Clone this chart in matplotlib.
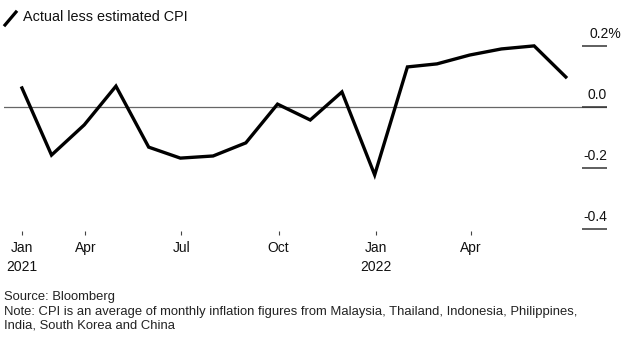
import matplotlib
matplotlib.use("Agg")
import matplotlib.pyplot as plt
from matplotlib.lines import Line2D
import pandas as pd

# monthly gap between actual and estimated CPI, percentage points
months = pd.date_range("2021-01-01", periods=18, freq="MS") + pd.offsets.MonthEnd(0)
cpi_gap = [0.064, -0.156, -0.057, 0.070, -0.130, -0.166, -0.159, -0.116, 0.011,
           -0.041, 0.051, -0.221, 0.133, 0.143, 0.172, 0.192, 0.202, 0.100]

tick_dates = pd.to_datetime(["2021-01-31", "2021-04-01", "2021-07-01",
                             "2021-10-01", "2022-01-01", "2022-04-01"])
tick_labels = ["Jan\n2021", "Apr", "Jul", "Oct", "Jan\n2022", "Apr"]
y_ticks = [0.2, 0.0, -0.2, -0.4]
y_labels = ["0.2%", "0.0", "-0.2", "-0.4"]

FONT = ["Liberation Sans", "DejaVu Sans"]
plt.rcParams["font.family"] = FONT

fig = plt.figure(figsize=(6.29, 3.39), dpi=100)
ax = fig.add_axes([4 / 629, 108 / 339, 603 / 629, 215 / 339])

ax.axhline(0, color="#666666", lw=0.9, zorder=1)
ax.plot(months, cpi_gap, color="black", lw=2.4, solid_joinstyle="miter", zorder=3)

ax.set_xlim(months[0] - pd.Timedelta(days=17), months[-1] + pd.Timedelta(days=39))
ax.set_ylim(-0.405, 0.30)

for s in ax.spines.values():
    s.set_visible(False)

ax.set_xticks(tick_dates)
ax.set_xticklabels(tick_labels, linespacing=1.45)
ax.tick_params(axis="x", direction="out", length=3, width=0.8, color="#444444",
               labelsize=10, pad=4, labelcolor="#111111")

ax.set_yticks(y_ticks)
ax.yaxis.tick_right()
ax.tick_params(axis="y", direction="in", length=18, width=1.1, color="#333333",
               labelright=False, labelleft=False)

# value labels sit above the short tick lines; the % sign hangs past the edge
for v, lab in zip(y_ticks, y_labels):
    dx = 10 if lab.endswith("%") else 0
    ax.annotate(lab, xy=(1, v), xycoords=("axes fraction", "data"),
                xytext=(dx, 6), textcoords="offset points",
                ha="right", va="baseline", fontsize=10, color="#111111")

# legend key and title
fig.add_artist(Line2D([5 / 629, 16 / 629], [1 - 25 / 339, 1 - 12 / 339],
                      color="black", lw=2.3, transform=fig.transFigure))
fig.text(23 / 629, 1 - 17 / 339, "Actual less estimated CPI", fontsize=10.4,
         va="center", ha="left", color="#111111")

notes = ["Source: Bloomberg",
         "Note: CPI is an average of monthly inflation figures from Malaysia, Thailand, Indonesia, Philippines,",
         "India, South Korea and China"]
for i, line in enumerate(notes):
    fig.text(4 / 629, 1 - (297 + 14.5 * i) / 339, line, fontsize=9.4,
             va="center", ha="left", color="#222222")

fig.savefig("out.png", dpi=100)
